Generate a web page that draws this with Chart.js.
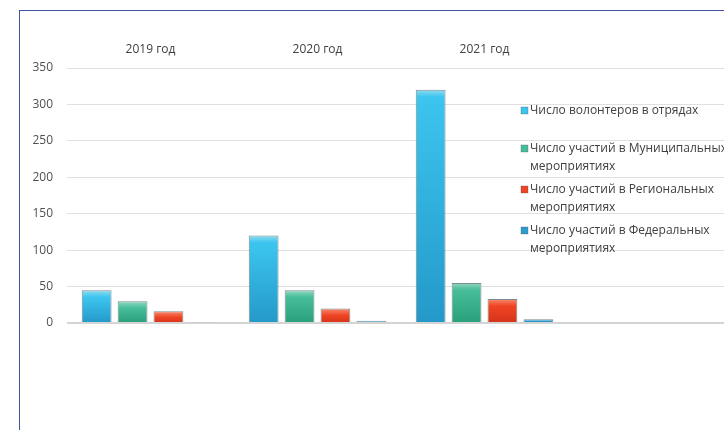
<!DOCTYPE html>
<html>
<head>
<meta charset="utf-8">
<script src="https://cdn.jsdelivr.net/npm/chart.js@4/dist/chart.umd.min.js"></script>
<style>
  html, body { margin: 0; padding: 0; background: #fff; overflow: hidden; }
  #wrap { position: absolute; left: 0; top: 0; width: 740px; height: 430px; }
  #frame { position: absolute; left: 19px; top: 10px; width: 800px; height: 500px;
           border-left: 1px solid #4352a3; border-top: 1px solid #4352a3; pointer-events: none; }
</style>
</head>
<body>
<div id="wrap"><canvas id="chart"></canvas></div>
<div id="frame"></div>
<script>
// Data
const years = ['2019 год', '2020 год', '2021 год', ''];
const volunteers = [45, 120, 320, null];
const municipal = [30, 45, 55, null];
const regional = [16, 20, 33, null];
const federal = [1, 3, 5, null];
const seriesNames = [
    ['Число волонтеров в отрядах'],
    ['Число участий в Муниципальных', 'мероприятиях'],
    ['Число участий в Региональных', 'мероприятиях'],
    ['Число участий в Федеральных', 'мероприятиях']
];
const yTicks = [0, 50, 100, 150, 200, 250, 300, 350];

// top, middle, bottom colours for the glossy bars
const palette = [
    ['#8fdcef', '#3cc5ef', '#2499c9'],
    ['#93d8c1', '#47bd99', '#2a9f7c'],
    ['#f88a6f', '#ef4423', '#d5331a'],
    ['#7fcbe9', '#2c9ccf', '#1c74a5']
];

function barFill(i) {
    return function(ctx) {
        const chart = ctx.chart;
        const ys = chart.scales && chart.scales.y;
        if (!ys || ctx.raw == null || ys.top === undefined) return palette[i][1];
        const top = ys.getPixelForValue(ctx.raw);
        const bottom = ys.getPixelForValue(0);
        if (!isFinite(top) || bottom - top < 2) return palette[i][1];
        const g = chart.ctx.createLinearGradient(0, top, 0, bottom);
        const hl = Math.min(0.5, 7 / (bottom - top));
        g.addColorStop(0, palette[i][0]);
        g.addColorStop(hl, palette[i][1]);
        g.addColorStop(1, palette[i][2]);
        return g;
    };
}

const dataSets = [volunteers, municipal, regional, federal].map(function(vals, i) {
    return {
        label: seriesNames[i].join(' '),
        data: vals,
        backgroundColor: barFill(i),
        borderColor: 'rgba(70, 90, 100, 0.7)',
        borderWidth: 1,
        categoryPercentage: 0.86,
        barPercentage: 0.83
    };
});

// legend drawn at the right over the plot, like the original
const sideLegend = {
    id: 'sideLegend',
    afterDraw(chart) {
        const c = chart.ctx;
        const rows = [111, 149, 190, 231];
        c.save();
        c.font = '12px "Open Sans"';
        c.textBaseline = 'middle';
        chart.data.datasets.forEach(function(ds, i) {
            const y = rows[i];
            c.fillStyle = palette[i][1];
            c.fillRect(521, y - 4, 7, 7);
            c.strokeStyle = 'rgba(80,80,80,0.5)';
            c.lineWidth = 0.6;
            c.strokeRect(521, y - 4, 7, 7);
            c.fillStyle = '#404040';
            seriesNames[i].forEach(function(line, k) {
                c.fillText(line, 530, y + k * 18);
            });
        });
        c.restore();
    }
};

new Chart(document.getElementById('chart'), {
    type: 'bar',
    data: { labels: years, datasets: dataSets },
    plugins: [sideLegend],
    options: {
        responsive: true,
        maintainAspectRatio: false,
        animation: false,
        layout: { padding: { left: 0, top: 30, right: 5, bottom: 107 } },
        plugins: { legend: { display: false }, tooltip: { enabled: false } },
        scales: {
            x: {
                position: 'top',
                grid: { display: false, drawTicks: false },
                border: { display: false },
                ticks: { color: '#404040', font: { family: 'Open Sans', size: 12 }, padding: 11 },
                afterFit(scale) { scale.height = 38; }
            },
            y: {
                min: 0,
                max: 350,
                afterBuildTicks(scale) { scale.ticks = yTicks.map(v => ({ value: v })); },
                grid: {
                    color: ctx => ctx.tick && ctx.tick.value === 0 ? '#d4d4d4' : '#e0e0e0',
                    lineWidth: ctx => ctx.tick && ctx.tick.value === 0 ? 2 : 1,
                    drawTicks: false
                },
                border: { display: false },
                ticks: { color: '#505050', font: { family: 'Open Sans', size: 12 }, padding: 14 },
                afterFit(scale) { scale.width = 67; }
            }
        }
    }
});
</script>
</body>
</html>
